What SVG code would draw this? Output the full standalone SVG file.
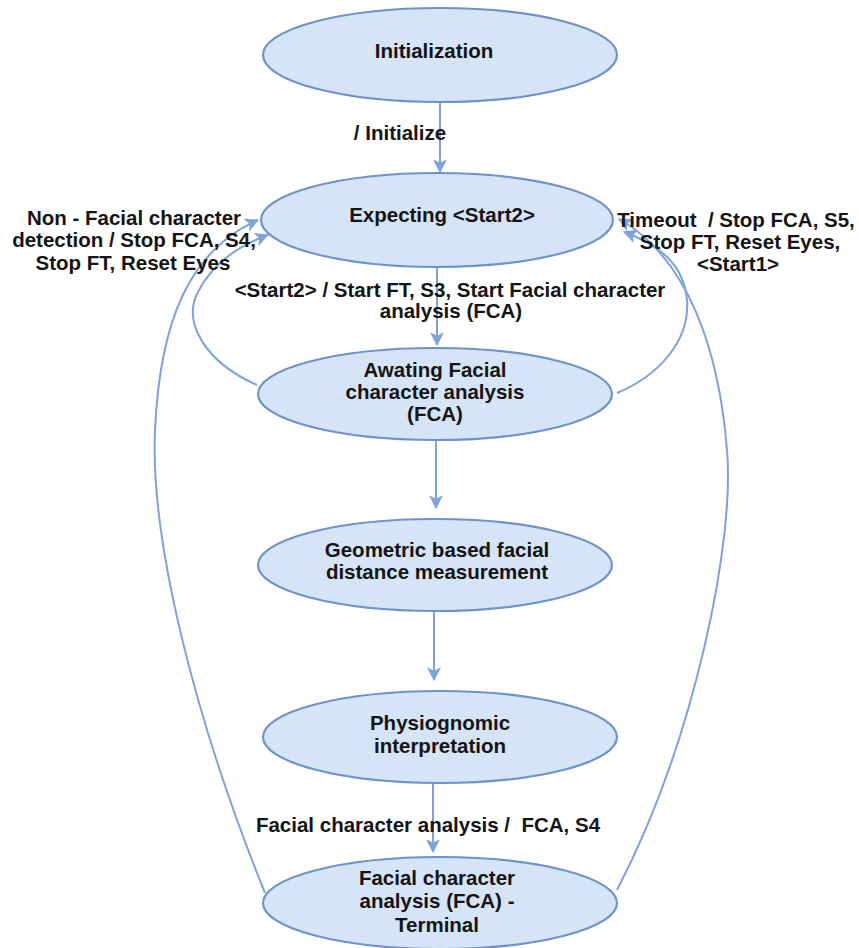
<svg xmlns="http://www.w3.org/2000/svg" width="859" height="948" viewBox="0 0 859 948">
  <style>
    .state ellipse { fill: #d6e4f7; stroke: #6e92c9; stroke-width: 2.2; }
    text { font-family: "Liberation Sans", Arial, sans-serif; font-weight: bold; font-size: 20.5px; fill: #141414; text-anchor: middle; white-space: pre; }
    .edge { fill: none; stroke: #7ea2da; stroke-width: 2; marker-end: url(#arrow); }
  </style>
  <defs>
    <marker id="arrow" markerUnits="userSpaceOnUse" markerWidth="14" markerHeight="14" viewBox="0 0 12 12" refX="11" refY="6" orient="auto">
      <path d="M0,0 L12,6 L0,12 L3,6 z" fill="#7ea2da"/>
    </marker>
  </defs>

  <rect width="859" height="948" fill="#ffffff"/>

  <!-- transitions -->
  <g id="connectors">
    <path class="edge" d="M440,102 L440,172"/>
    <path class="edge" d="M437,267 L437,345"/>
    <path class="edge" d="M436,440 L436,508"/>
    <path class="edge" d="M434,611 L434,680"/>
    <path class="edge" d="M433,783 L433,852"/>
    <!-- loops back to Expecting, left side -->
    <path class="edge" d="M257,385 C205,362 182,322 198,292 C212,264 238,246 268,235"/>
    <path class="edge" d="M265,893 C195,720 150,540 155,430 C160,320 190,250 258,220"/>
    <!-- loops back to Expecting, right side -->
    <path class="edge" d="M617,393 C660,375 690,340 687,300 C684,265 660,245 624,232"/>
    <path class="edge" d="M617,890 C695,740 735,540 727,450 C719,350 688,258 619,219"/>
  </g>

  <g id="initialization" class="state">
    <ellipse cx="440" cy="55" rx="177" ry="47"/>
    <text x="434" y="58">Initialization</text>
  </g>

  <g id="expecting" class="state">
    <ellipse cx="437" cy="220" rx="176" ry="47"/>
    <text x="442" y="222">Expecting &lt;Start2&gt;</text>
  </g>

  <g id="awaiting-fca" class="state">
    <ellipse cx="435" cy="394" rx="177" ry="46"/>
    <text x="435" y="377">Awating Facial</text>
    <text x="435" y="399">character analysis</text>
    <text x="435" y="421">(FCA)</text>
  </g>

  <g id="geometric" class="state">
    <ellipse cx="435" cy="565" rx="177" ry="46"/>
    <text x="437" y="557">Geometric based facial</text>
    <text x="437" y="579">distance measurement</text>
  </g>

  <g id="physiognomic" class="state">
    <ellipse cx="440" cy="737" rx="177" ry="46"/>
    <text x="440" y="730">Physiognomic</text>
    <text x="440" y="753">interpretation</text>
  </g>

  <g id="terminal" class="state">
    <ellipse cx="440" cy="903" rx="177" ry="46"/>
    <text x="437" y="885">Facial character</text>
    <text x="437" y="908">analysis (FCA) -</text>
    <text x="437" y="932">Terminal</text>
  </g>

  <!-- transition labels -->
  <g id="labels">
    <text x="400" y="140">/ Initialize</text>
    <text x="134" y="225">Non - Facial character</text>
    <text x="134" y="247">detection / Stop FCA, S4,</text>
    <text x="133" y="270">Stop FT, Reset Eyes</text>
    <text x="736" y="227">Timeout  / Stop FCA, S5,</text>
    <text x="740" y="249">Stop FT, Reset Eyes,</text>
    <text x="738" y="271">&lt;Start1&gt;</text>
    <text x="450" y="297">&lt;Start2&gt; / Start FT, S3, Start Facial character</text>
    <text x="451" y="318">analysis (FCA)</text>
    <text x="428" y="832">Facial character analysis /  FCA, S4</text>
  </g>
</svg>
